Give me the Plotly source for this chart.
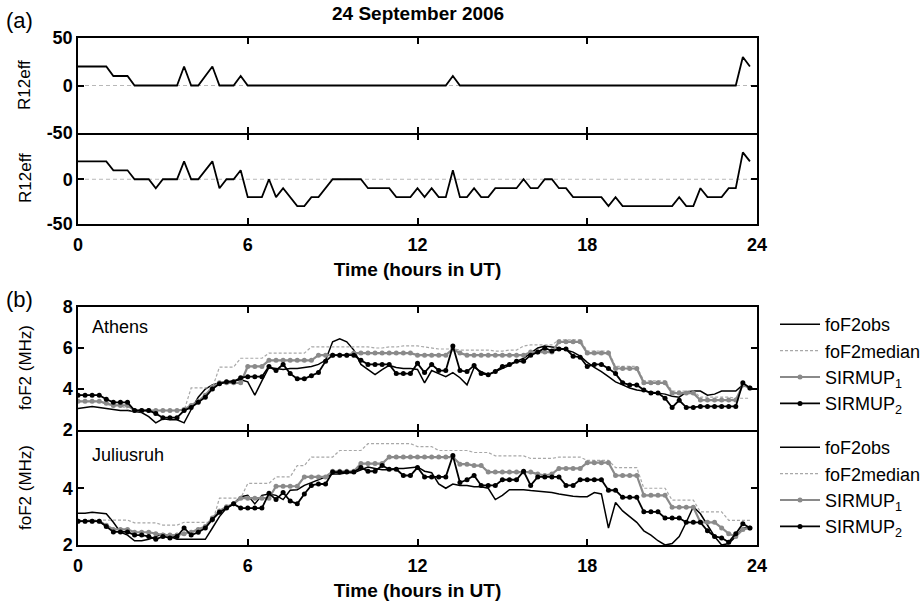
import plotly.graph_objects as go

# Sample times: 15-minute steps over the UT day
hours = [i * 0.25 for i in range(96)]

# Effective sunspot number R12eff (upper: SIRMUP1 run, lower: SIRMUP2 run)
r12eff_1 = [20, 20, 20, 20, 20, 10, 10, 10,
            0, 0, 0, 0, 0, 0, 0, 20,
            0, 0, 10, 20, 0, 0, 0, 10,
            0, 0, 0, 0, 0, 0, 0, 0,
            0, 0, 0, 0, 0, 0, 0, 0,
            0, 0, 0, 0, 0, 0, 0, 0,
            0, 0, 0, 0, 0, 10, 0, 0,
            0, 0, 0, 0, 0, 0, 0, 0,
            0, 0, 0, 0, 0, 0, 0, 0,
            0, 0, 0, 0, 0, 0, 0, 0,
            0, 0, 0, 0, 0, 0, 0, 0,
            0, 0, 0, 0, 0, 0, 30, 20]

r12eff_2 = [20, 20, 20, 20, 20, 10, 10, 10,
            0, 0, 0, -10, 0, 0, 0, 20,
            0, 0, 10, 20, -10, 0, 0, 10,
            -20, -20, -20, 0, -20, -10, -20, -30,
            -30, -20, -20, -10, 0, 0, 0, 0,
            0, -10, -10, -10, -10, -20, -20, -20,
            -10, -20, -10, -20, -20, 10, -20, -20,
            -10, -20, -20, -10, -10, -10, -10, 0,
            -10, -10, 0, 0, -10, -10, -20, -20,
            -20, -20, -20, -30, -20, -30, -30, -30,
            -30, -30, -30, -30, -30, -20, -30, -30,
            -10, -20, -20, -20, -10, -10, 30, 20]

# Athens foF2 (MHz)
athens_obs = [3.05, 3.1, 3.15, 3.1, 3.05, 3.0, 2.95, 2.95,
              2.9, 2.85, 2.65, 2.35, 2.55, 2.5, 2.5, 2.35,
              3.0, 3.6, 4.0, 4.2, 4.3, 4.35, 4.4, 4.45,
              4.35, 3.7, 4.4, 5.05, 5.0, 4.95, 5.0, 5.0,
              5.05, 5.1, 5.2, 5.4, 6.3, 6.45, 6.3, 5.9,
              5.2, 4.95, 4.7, 4.95, 5.15, 5.05, 5.0, 5.0,
              4.95, 4.3, 4.9, 4.75, 4.6, 4.8, 4.55, 4.2,
              5.05, 4.85, 4.7, 4.85, 5.0, 5.15, 5.35, 5.5,
              5.75, 6.0, 6.1, 6.05, 6.0, 5.9, 5.8, 5.6,
              5.3, 5.05, 4.85, 4.6, 4.35, 4.2, 4.05, 3.95,
              3.9, 3.85, 3.8, 3.75, 3.65, 3.6, 3.85, 3.9,
              3.9, 3.7, 3.75, 3.9, 3.9, 3.9, 4.2, 4.05]

athens_median = [3.4, 3.4, 3.4, 3.4, 3.25, 3.2, 3.2, 3.0,
                 2.95, 2.95, 2.95, 2.95, 2.95, 2.95, 2.95, 2.95,
                 4.05, 4.05, 4.05, 4.05, 5.07, 5.07, 5.07, 5.5,
                 5.5, 5.5, 5.5, 5.75, 5.75, 5.75, 5.75, 5.75,
                 5.75, 6.05, 6.05, 6.05, 6.05, 6.05, 6.05, 6.05,
                 6.05, 6.05, 6.0, 6.0, 6.05, 6.05, 6.1, 6.1,
                 6.1, 6.05, 6.0, 5.95, 5.95, 5.95, 5.9, 5.9,
                 5.9, 5.9, 5.9, 5.85, 5.85, 5.9, 5.9, 6.1,
                 6.15, 6.15, 6.15, 6.15, 6.4, 6.4, 6.4, 6.4,
                 5.85, 5.85, 5.85, 5.85, 5.1, 5.1, 5.1, 5.1,
                 4.4, 4.4, 4.4, 4.4, 3.9, 3.9, 3.9, 3.9,
                 3.6, 3.6, 3.6, 3.6, 3.6, 3.55, 3.55, 3.55]

athens_sirmup1 = [3.4, 3.4, 3.4, 3.4, 3.3, 3.2, 3.2, 3.2,
                  2.95, 2.95, 2.95, 2.95, 2.95, 2.95, 2.95, 3.0,
                  3.2, 3.4, 3.7, 4.1, 4.3, 4.3, 4.3, 4.3,
                  5.1, 5.1, 5.1, 5.4, 5.4, 5.4, 5.4, 5.4,
                  5.4, 5.4, 5.65, 5.65, 5.65, 5.65, 5.65, 5.75,
                  5.75, 5.75, 5.75, 5.75, 5.75, 5.75, 5.75, 5.75,
                  5.65, 5.65, 5.65, 5.65, 5.65, 5.95, 5.75, 5.65,
                  5.65, 5.65, 5.65, 5.65, 5.65, 5.65, 5.65, 5.65,
                  5.8, 5.8, 5.8, 5.8, 6.3, 6.3, 6.3, 6.3,
                  5.75, 5.75, 5.75, 5.75, 5.0, 5.0, 5.0, 5.0,
                  4.3, 4.3, 4.3, 4.3, 3.8, 3.8, 3.8, 3.8,
                  3.46, 3.46, 3.46, 3.46, 3.46, 3.46, 4.2, 4.05]

athens_sirmup2 = [3.7, 3.7, 3.7, 3.7, 3.5, 3.35, 3.35, 3.35,
                  2.95, 2.95, 2.95, 2.8, 2.6, 2.6, 2.6, 2.95,
                  3.1, 3.35, 3.6, 4.0, 4.25, 4.35, 4.35, 4.55,
                  4.6, 4.6, 4.6, 5.1, 4.9, 5.2, 4.75, 4.5,
                  4.5, 4.65, 4.8, 5.35, 5.65, 5.65, 5.65, 5.65,
                  5.4, 5.2, 5.2, 5.2, 5.2, 4.75, 4.75, 4.75,
                  5.25, 4.8, 5.2, 4.9, 4.9, 6.1, 4.9, 4.85,
                  5.15, 4.75, 4.7, 4.85, 5.1, 5.2, 5.35, 5.35,
                  5.65, 5.8, 6.0, 5.85, 5.95, 5.95, 5.6, 5.55,
                  5.1, 5.2, 5.2, 5.0, 4.75, 4.3, 4.2, 4.2,
                  3.95, 3.8, 3.8, 3.55, 3.1, 3.45, 3.1, 3.1,
                  3.15, 3.15, 3.15, 3.15, 3.15, 3.15, 4.3, 4.05]

# Juliusruh foF2 (MHz)
juliusruh_obs = [3.12, 3.12, 3.15, 3.12, 3.1, 2.8, 2.45, 2.35,
                 2.15, 2.15, 2.2, 2.3, 2.4, 2.3, 2.2, 2.2,
                 2.2, 2.2, 2.2, 2.6, 3.0, 3.3, 3.45, 3.7,
                 3.75, 3.45, 3.75, 3.8, 3.75, 3.6, 3.93, 3.95,
                 4.1, 4.2, 4.3, 4.4, 4.5, 4.5, 4.55, 4.55,
                 4.65, 4.75, 4.7, 4.65, 4.65, 4.7, 4.7, 4.72,
                 4.75, 4.6, 4.55, 4.15, 4.0, 4.15, 4.1, 4.1,
                 4.05, 4.05, 4.0, 3.6, 3.75, 3.95, 3.95, 3.95,
                 3.92, 3.9, 3.88, 3.85, 3.8, 3.75, 3.72, 3.7,
                 3.7, 3.85, 3.8, 2.6, 3.5, 3.2, 3.0, 2.8,
                 2.5, 2.35, 2.15, 2.0, 2.05, 2.3, 2.8, 3.35,
                 3.1, 2.7, 2.3, 2.0, 2.05, 2.3, 2.6, 2.6]

juliusruh_median = [2.88, 2.88, 2.88, 2.88, 2.88, 2.88, 2.88, 2.88,
                    2.78, 2.78, 2.78, 2.78, 2.7, 2.7, 2.7, 2.8,
                    2.8, 2.8, 2.8, 2.8, 3.65, 3.65, 3.65, 3.65,
                    4.17, 4.17, 4.17, 4.17, 4.4, 4.4, 4.4, 4.8,
                    4.8, 5.1, 5.1, 5.1, 5.1, 5.33, 5.33, 5.33,
                    5.33, 5.57, 5.57, 5.57, 5.57, 5.57, 5.57, 5.57,
                    5.47, 5.47, 5.47, 5.33, 5.33, 5.33, 5.33, 5.33,
                    5.26, 5.26, 5.26, 5.14, 5.14, 5.14, 5.14, 5.14,
                    5.05, 5.05, 5.05, 5.05, 5.1, 5.1, 5.1, 5.1,
                    4.98, 4.98, 4.98, 4.98, 4.73, 4.73, 4.73, 4.73,
                    4.0, 4.0, 4.0, 4.0, 3.58, 3.58, 3.58, 3.58,
                    3.17, 3.17, 3.17, 3.17, 2.87, 2.87, 2.87, 2.87]

juliusruh_sirmup1 = [2.84, 2.84, 2.84, 2.84, 2.7, 2.55, 2.55, 2.55,
                     2.45, 2.45, 2.45, 2.4, 2.35, 2.35, 2.35, 2.4,
                     2.45, 2.55, 2.65, 2.95, 3.2, 3.35, 3.45, 3.65,
                     3.65, 3.65, 3.65, 3.65, 4.07, 4.07, 4.07, 4.07,
                     4.4, 4.4, 4.4, 4.4, 4.6, 4.6, 4.6, 4.6,
                     4.87, 4.87, 4.87, 4.87, 5.1, 5.1, 5.1, 5.1,
                     5.1, 5.1, 5.1, 5.1, 5.1, 5.1, 4.85, 4.85,
                     4.8, 4.8, 4.57, 4.57, 4.57, 4.57, 4.57, 4.57,
                     4.57, 4.5, 4.45, 4.5, 4.7, 4.7, 4.7, 4.7,
                     4.9, 4.9, 4.9, 4.9, 4.45, 4.45, 4.45, 4.45,
                     3.75, 3.75, 3.75, 3.75, 3.33, 3.33, 3.33, 3.33,
                     2.8, 2.8, 2.8, 2.6, 2.4, 2.3, 2.55, 2.6]

juliusruh_sirmup2 = [2.84, 2.84, 2.84, 2.84, 2.65, 2.46, 2.46, 2.46,
                     2.35, 2.35, 2.3, 2.2, 2.3, 2.25, 2.3, 2.6,
                     2.35, 2.45, 2.6, 2.9, 3.15, 3.3, 3.45, 3.3,
                     3.3, 3.3, 3.3, 3.82, 3.6, 3.85, 3.55, 3.45,
                     3.8, 4.1, 4.15, 4.15, 4.57, 4.57, 4.57, 4.57,
                     4.73, 4.6, 4.6, 4.8, 4.67, 4.67, 4.45, 4.45,
                     4.73, 4.4, 4.4, 4.4, 4.4, 5.15, 4.2, 4.3,
                     4.45, 4.1, 4.1, 4.1, 4.3, 4.3, 4.3, 4.6,
                     4.1, 4.4, 4.4, 4.4, 4.4, 4.1, 4.1, 4.3,
                     4.3, 4.3, 4.3, 3.93, 3.93, 3.68, 3.68, 3.68,
                     3.17, 3.17, 3.17, 2.95, 2.95, 2.95, 2.8, 2.8,
                     2.8, 2.5, 2.3, 2.25, 2.1, 2.4, 2.75, 2.6]

hour_ticks = [0, 6, 12, 18, 24]
r12_ticks = [-50, 0, 50]
r12_upper_labels = ["-50", "0", "50"]
r12_lower_labels = ["-50", "0", ""]
series_names = ["foF2obs", "foF2median", "SIRMUP<sub>1</sub>", "SIRMUP<sub>2</sub>"]

FONT = "Liberation Sans, Arial, sans-serif"
W, H = 922, 608
LW = 1.5  # axis line width in px


def px_x(p):
    return p / W


def px_y(p):
    return 1 - p / H


x_dom = [px_x(78), px_x(757)]
# stacked panels share their border line, so the lower panel's top edge
# is pushed down by one line width to make the two lines coincide
panels = {
    "a1": [px_y(133), px_y(38)],
    "a2": [px_y(224), px_y(133 + LW)],
    "b1": [px_y(430), px_y(307)],
    "b2": [px_y(545), px_y(430 + LW)],
}

fig = go.Figure()

# R12eff panels
fig.add_trace(go.Scatter(x=hours, y=r12eff_1, mode="lines", xaxis="x", yaxis="y",
                         line=dict(color="black", width=1.8), showlegend=False))
fig.add_trace(go.Scatter(x=hours, y=r12eff_2, mode="lines", xaxis="x2", yaxis="y2",
                         line=dict(color="black", width=1.8), showlegend=False))

styles = [
    dict(mode="lines", line=dict(color="black", width=1.5)),
    dict(mode="lines", line=dict(color="#a8a8a8", width=1.2, dash="3px,2px")),
    dict(mode="lines+markers", line=dict(color="#8a8a8a", width=2.2),
         marker=dict(color="#8a8a8a", size=5, symbol="circle")),
    dict(mode="lines+markers", line=dict(color="black", width=1.8),
         marker=dict(color="black", size=5, symbol="circle")),
]

station_sets = [
    ("x3", "y3", "legend", [athens_obs, athens_median, athens_sirmup1, athens_sirmup2]),
    ("x4", "y4", "legend2", [juliusruh_obs, juliusruh_median, juliusruh_sirmup1, juliusruh_sirmup2]),
]
for xa, ya, leg, series in station_sets:
    for name, vals, st in zip(series_names, series, styles):
        fig.add_trace(go.Scatter(x=hours, y=vals, name=name, xaxis=xa, yaxis=ya,
                                 legend=leg, **st))

tick_font = dict(family=FONT, size=18, color="black", weight="bold")
axis_common = dict(showline=True, linecolor="black", linewidth=LW, mirror="ticks",
                   ticks="inside", ticklen=6, tickwidth=1.5, tickcolor="black",
                   showgrid=False, zeroline=False, tickfont=tick_font)

x_title = dict(text="Time (hours in UT)", font=dict(family=FONT, size=19, color="black", weight="bold"),
               standoff=8)

legend_font = dict(family=FONT, size=18, color="black")

fig.update_layout(
    width=W, height=H,
    margin=dict(l=0, r=0, t=0, b=0, autoexpand=False),
    paper_bgcolor="white", plot_bgcolor="white",
    font=dict(family=FONT, color="black"),
    xaxis=dict(domain=x_dom, anchor="y", range=[0, 24], tickvals=hour_ticks,
               showticklabels=False, **axis_common),
    xaxis2=dict(domain=x_dom, anchor="y2", range=[0, 24], tickvals=hour_ticks,
                title=x_title, ticklabelstandoff=4, **axis_common),
    xaxis3=dict(domain=x_dom, anchor="y3", range=[0, 24], tickvals=hour_ticks,
                showticklabels=False, **axis_common),
    xaxis4=dict(domain=x_dom, anchor="y4", range=[0, 24], tickvals=hour_ticks,
                title=x_title, ticklabelstandoff=4, **axis_common),
    yaxis=dict(domain=panels["a1"], anchor="x", range=[-50, 50],
               tickvals=r12_ticks, ticktext=r12_upper_labels, **axis_common),
    yaxis2=dict(domain=panels["a2"], anchor="x2", range=[-50, 50],
                tickvals=r12_ticks, ticktext=r12_lower_labels, **axis_common),
    yaxis3=dict(domain=panels["b1"], anchor="x3", range=[2, 8],
                tickvals=[2, 4, 6, 8], **axis_common),
    yaxis4=dict(domain=panels["b2"], anchor="x4", range=[2, 6],
                tickvals=[2, 4, 6], ticktext=["2", "4", ""], **axis_common),
    legend=dict(x=px_x(775), y=px_y(306), xanchor="left", yanchor="top",
                font=legend_font, bgcolor="rgba(0,0,0,0)",
                tracegroupgap=0, itemwidth=40),
    legend2=dict(x=px_x(775), y=px_y(429), xanchor="left", yanchor="top",
                 font=legend_font, bgcolor="rgba(0,0,0,0)",
                 tracegroupgap=0, itemwidth=40),
)

# Dashed zero reference in both R12eff panels
for xr, yr in [("x", "y"), ("x2", "y2")]:
    fig.add_shape(type="line", xref=xr, yref=yr, x0=0, x1=24, y0=0, y1=0,
                  line=dict(color="#b8b8b8", width=1, dash="4px,3px"), layer="below")

ann = []
label_font = dict(family=FONT, size=17, color="black")
for text, ypix in [("R12eff", 85), ("R12eff", 178), ("foF2 (MHz)", 368), ("foF2 (MHz)", 488)]:
    ann.append(dict(text=text, x=px_x(25), y=px_y(ypix), xref="paper", yref="paper",
                    textangle=-90, showarrow=False, font=label_font,
                    xanchor="center", yanchor="middle"))
ann += [
    dict(text="(a)", x=px_x(4), y=px_y(20), xref="paper", yref="paper", showarrow=False,
         font=dict(family=FONT, size=22, color="black"), xanchor="left", yanchor="middle"),
    dict(text="(b)", x=px_x(4), y=px_y(299), xref="paper", yref="paper", showarrow=False,
         font=dict(family=FONT, size=22, color="black"), xanchor="left", yanchor="middle"),
    dict(text="24 September 2006", x=px_x(418), y=px_y(14), xref="paper", yref="paper",
         showarrow=False, font=dict(family=FONT, size=19, color="black", weight="bold"),
         xanchor="center", yanchor="middle"),
    dict(text="Athens", x=px_x(90), y=px_y(327), xref="paper", yref="paper", showarrow=False,
         font=dict(family=FONT, size=18, color="black"), xanchor="left", yanchor="middle"),
    dict(text="Juliusruh", x=px_x(90), y=px_y(455), xref="paper", yref="paper", showarrow=False,
         font=dict(family=FONT, size=18, color="black"), xanchor="left", yanchor="middle"),
]
fig.update_layout(annotations=ann)

# page body without the browser's default margin so the figure fills the window
fig.write_html("out.html", post_script="document.body.style.margin='0';")
